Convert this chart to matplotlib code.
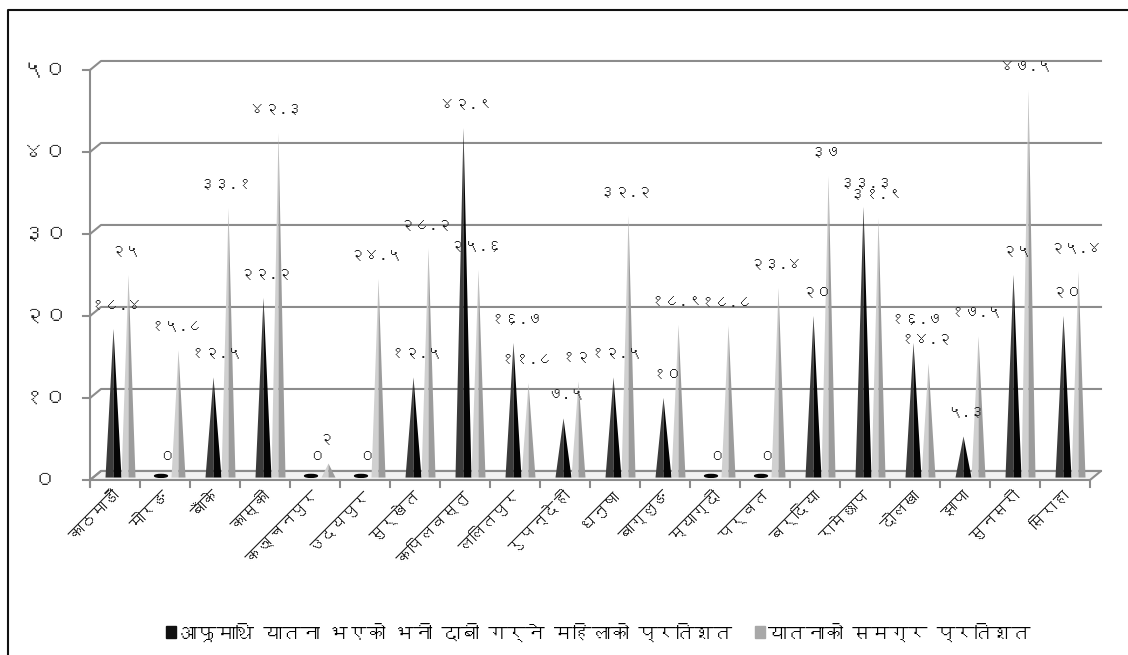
import numpy as np
import matplotlib
matplotlib.use('Agg')
import matplotlib.pyplot as plt
from matplotlib import font_manager
from matplotlib.ft2font import FT2Font
from matplotlib.patches import Polygon, Ellipse, Rectangle
from matplotlib.lines import Line2D

# data
districts = ['काठमाडौं', 'मोरङ', 'बाँके', 'कास्की', 'कञ्चनपुर', 'उदयपुर', 'सुर्खेत',
             'कपिलवस्तु', 'ललितपुर', 'रुपन्देही', 'धनुषा', 'बाग्लुङ', 'म्याग्दी', 'पर्वत',
             'बर्दिया', 'रामेछाप', 'दोलखा', 'झापा', 'सुनसरी', 'सिराहा']
women_pct = [18.4, 0, 12.5, 22.2, 0, 0, 12.5, 42.9, 16.7, 7.5,
             12.5, 10, 0, 0, 20, 33.3, 16.7, 5.3, 25, 20]
overall_pct = [25, 15.8, 33.1, 42.3, 2, 24.5, 28.2, 25.6, 11.8, 12,
               32.2, 18.9, 18.8, 23.4, 37, 31.9, 14.2, 17.5, 47.5, 25.4]
yticks = [0, 10, 20, 30, 40, 50]
legend_labels = ['आफूमाथि यातना भएको भनी दाबी गर्ने महिलाको प्रतिशत', 'यातनाको समग्र प्रतिशत']


def find_deva_font():
    for f in font_manager.fontManager.ttflist:
        try:
            if 0x0915 in FT2Font(f.fname).get_charmap():
                return f.name
        except Exception:
            pass
    return 'DejaVu Sans'


deva = find_deva_font()
plt.rcParams['font.family'] = [deva, 'DejaVu Sans']

DIGITS = str.maketrans('0123456789', '०१२३४५६७८९')


def to_deva(v):
    s = str(int(v)) if float(v).is_integer() else '%.1f' % v
    return s.translate(DIGITS)


fig = plt.figure(figsize=(11.28, 6.55), dpi=100)
ax = fig.add_axes([90 / 1128, 175 / 655, 1000 / 1128, 410 / 655])
ax.set_xlim(0, 20)
ax.set_ylim(0, 50)
ax.axis('off')

n = len(districts)
grid_c = '#8c8c8c'
dx, dy = 0.22, 1.1   # depth offset of the back wall

# back wall gridlines
for v in yticks:
    ax.plot([0, dx, 20 + dx], [v, v + dy, v + dy], color=grid_c, lw=1.5, clip_on=False)
    ax.plot([-0.15, 0], [v, v], color=grid_c, lw=1.5, clip_on=False)
    ax.text(-0.9, v, to_deva(v), ha='center', va='center', fontsize=16, color='#222222')

# floor
ax.add_patch(Polygon([(0, 0), (20, 0), (20 + dx, dy), (dx, dy)], closed=True,
                     facecolor='#f2f2f2', edgecolor=grid_c, lw=1.5, clip_on=False, zorder=1))
ax.plot([0, 0], [-0.7, 50], color=grid_c, lw=1.5, clip_on=False)
for k in range(n + 1):
    ax.plot([k, k], [0, -0.8], color=grid_c, lw=1.5, clip_on=False)

# cones
base = 0.3
series = [(women_pct, 0.47, 0.16, '#3a3a3a', '#050505', 2),
          (overall_pct, 0.77, 0.14, '#d0d0d0', '#9c9c9c', -2)]
for vals, off, w, c_left, c_right, lab_dx in series:
    for i, v in enumerate(vals):
        x = i + off
        if v <= 0:
            ax.add_patch(Ellipse((x - 0.05, base + 0.2), 1.6 * w, 0.35, color=c_right,
                                 zorder=3, clip_on=False))
        else:
            ax.add_patch(Polygon([(x - w, base), (x, v), (x, base)], closed=True,
                                 facecolor=c_left, edgecolor='none', zorder=3, clip_on=False))
            ax.add_patch(Polygon([(x, base), (x, v), (x + w, base)], closed=True,
                                 facecolor=c_right, edgecolor='none', zorder=3, clip_on=False))
        ax.annotate(to_deva(v), (x, v), xytext=(lab_dx, 17), textcoords='offset points',
                    ha='center', va='center', fontsize=11, color='#222222', zorder=5)

# category labels
for i, name in enumerate(districts):
    ax.text(i + 0.55, -1.6, name, rotation=45, rotation_mode='anchor',
            ha='right', va='center', fontsize=11.5, color='#222222')

# legend
fig.patches.append(Rectangle((166 / 1128, 1 - 638 / 655), 10 / 1128, 12 / 655,
                             transform=fig.transFigure, color='#111111'))
fig.text(179 / 1128, 1 - 632 / 655, legend_labels[0], ha='left', va='center', fontsize=13.5)
fig.patches.append(Rectangle((755 / 1128, 1 - 638 / 655), 10 / 1128, 12 / 655,
                             transform=fig.transFigure, color='#a8a8a8'))
fig.text(768 / 1128, 1 - 632 / 655, legend_labels[1], ha='left', va='center', fontsize=13.5)

# outer frame (left and top only)
fig.lines.append(Line2D([8 / 1128, 8 / 1128, 1], [0, 1 - 10 / 655, 1 - 10 / 655],
                        transform=fig.transFigure, color='#111111', lw=1.5))

fig.savefig('out.png', dpi=100)
